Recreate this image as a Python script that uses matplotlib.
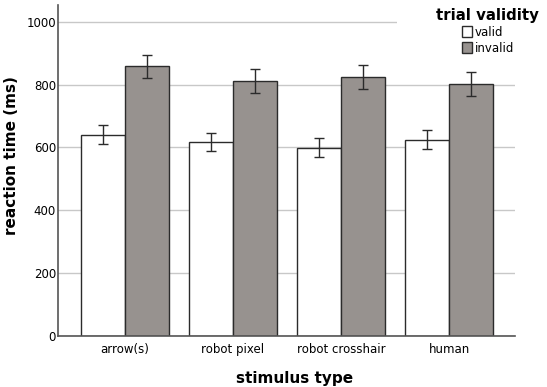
import numpy as np
import matplotlib
matplotlib.use("Agg")
import matplotlib.pyplot as plt
from matplotlib.patches import Patch, Rectangle

plt.rcParams['font.family'] = ['DejaVu Sans']

categories = ["arrow(s)", "robot pixel", "robot crosshair", "human"]
valid_mean = [641, 616, 599, 625]
valid_err = [30, 29, 30, 30]
invalid_mean = [858, 811, 824, 801]
invalid_err = [37, 37, 38, 38]
yticks = [0, 200, 400, 600, 800, 1000]

VALID_COLOR = "#ffffff"
INVALID_COLOR = "#97928f"
EDGE = "#2b2b2b"

fig = plt.figure(figsize=(5.47, 3.87), dpi=100)
ax = fig.add_axes([58 / 547, 1 - 336 / 387, (515 - 58) / 547, (336 - 5) / 387])

x = np.arange(len(categories))
w = 0.406
err_kw = dict(ecolor=EDGE, elinewidth=1.0, capsize=3.5, capthick=1.0)
ax.bar(x - w / 2, valid_mean, w, yerr=valid_err, color=VALID_COLOR,
       edgecolor=EDGE, linewidth=1.0, error_kw=err_kw, zorder=2)
ax.bar(x + w / 2, invalid_mean, w, yerr=invalid_err, color=INVALID_COLOR,
       edgecolor=EDGE, linewidth=1.0, error_kw=err_kw, zorder=2)

ax.set_xlim(-0.617, 3.607)
ax.set_ylim(0, 1053)
ax.set_yticks(yticks)
ax.set_xticks(x)
ax.set_xticklabels(categories, fontsize=8.5)
ax.tick_params(axis='y', length=0, pad=1.5, labelsize=8.5)
ax.tick_params(axis='x', length=0, pad=5)
ax.yaxis.grid(True, color="#c8c8c8", linewidth=1.0)
ax.set_axisbelow(True)
for s in ["top", "right"]:
    ax.spines[s].set_visible(False)
for s in ["left", "bottom"]:
    ax.spines[s].set_color("#555555")
    ax.spines[s].set_linewidth(1.2)

# white area behind the legend that hides the top gridline
ax.add_patch(Rectangle((397 / 547, 1 - 45 / 387), 150 / 547, 45 / 387,
                       transform=fig.transFigure, facecolor="white",
                       edgecolor="none", zorder=1))

ax.set_xlabel("stimulus type", fontsize=11, fontweight="bold")
ax.set_ylabel("reaction time (ms)", fontsize=11, fontweight="bold")
ax.xaxis.set_label_coords((295 - 58) / 457, (336 - 378) / 331)
ax.yaxis.set_label_coords((12 - 58) / 457, (336 - 156) / 331)
ax.xaxis.label.set_va("center")
ax.yaxis.label.set_va("center")

handles = [Patch(facecolor=VALID_COLOR, edgecolor=EDGE, label="valid"),
           Patch(facecolor=INVALID_COLOR, edgecolor=EDGE, label="invalid")]
leg = fig.legend(handles=handles, title="trial validity", loc="upper right",
                 bbox_to_anchor=(1.0, 1.0), frameon=False, fontsize=8.5,
                 handlelength=0.9, handleheight=1.0, handletextpad=0.2,
                 labelspacing=0.25, borderpad=0.15)
leg.get_title().set_fontweight("bold")
leg.get_title().set_fontsize(10.8)

fig.savefig("out.png", dpi=100)
